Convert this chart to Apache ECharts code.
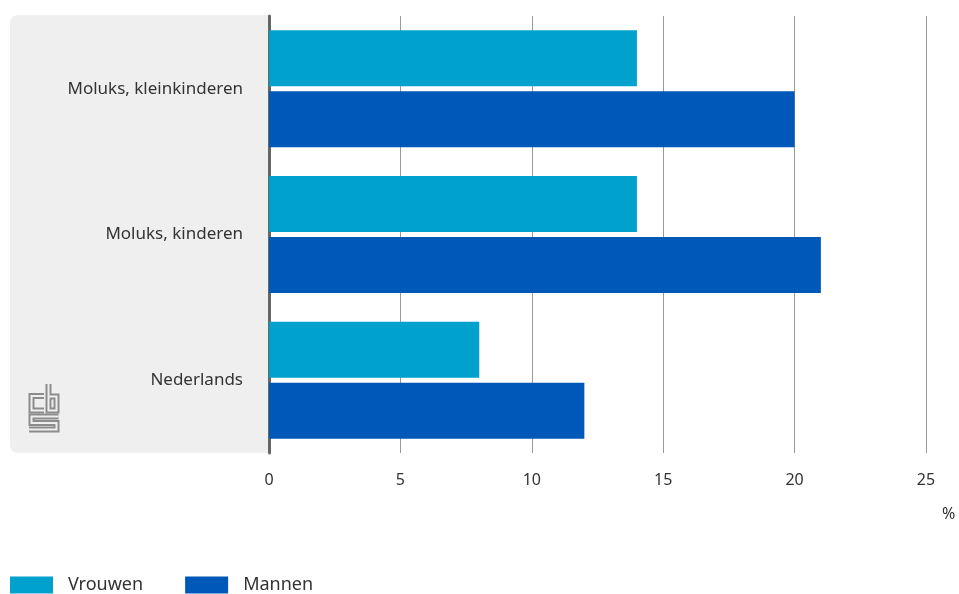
<!DOCTYPE html>
<html><head><meta charset="utf-8">
<script src="https://cdn.jsdelivr.net/npm/echarts@6/dist/echarts.min.js"></script>
<style>html,body{margin:0;padding:0;background:#fff}#c{width:959px;height:594px}</style>
</head><body><div id="c"></div>
<script>
const categories = ["Moluks, kleinkinderen", "Moluks, kinderen", "Nederlands"];
const vrouwen = [14, 14, 8];
const mannen = [20, 21, 12];
const seriesNames = ["Vrouwen", "Mannen"];
const xTicks = [0, 5, 10, 15, 20, 25];

const FONT = "Noto Sans";
const chart = echarts.init(document.getElementById('c'), null, {renderer: 'canvas'});

function logoLine(points, w, color) {
  return {type: 'polyline', shape: {points: points}, style: {stroke: color, lineWidth: w, fill: null, lineJoin: 'miter', lineCap: 'butt'}, z: 5};
}
const cPts = [[44,396],[31.5,396],[31.5,410.5],[44,410.5]];
const bPts = [[48.5,384],[48.5,410.5],[56.5,410.5],[56.5,396.5],[48.5,396.5]];
const sPts = [[58.5,416.5],[31.5,416.5],[31.5,423],[56.5,423],[56.5,429.5],[29,429.5]];
const logo = [];
[cPts,bPts,sPts].forEach(p => { logo.push(logoLine(p, 6, '#8c8c8c')); });
[cPts,bPts,sPts].forEach(p => { logo.push(logoLine(p, 2, '#efefef')); });

chart.setOption({
  animation: false,
  textStyle: {fontFamily: FONT},
  grid: {left: 269, right: 33, top: 16, bottom: 141, containLabel: false},
  graphic: [
    {type: 'rect', shape: {x: 10, y: 15, width: 270, height: 438, r: 8}, style: {fill: '#efefef'}, z: -10},
    {type: 'rect', shape: {x: 269, y: 15, width: 20, height: 438}, style: {fill: '#ffffff'}, z: -9},
    {type: 'text', left: 942, top: 506, style: {text: '%', fontSize: 16, fill: '#333', fontFamily: FONT}}
  ].concat(logo),
  legend: {
    left: 10, bottom: 0, padding: 0, itemWidth: 43, itemHeight: 17, itemGap: 42,
    icon: 'rect',
    textStyle: {fontSize: 18, color: '#333', fontFamily: FONT, padding: [0,0,0,10]},
    data: seriesNames
  },
  xAxis: {
    type: 'value', min: 0, max: 25, interval: 5,
    axisLine: {show: false}, axisTick: {show: false},
    splitLine: {show: true, lineStyle: {color: '#999', width: 1}},
    axisLabel: {color: '#333', fontSize: 16, margin: 19, fontFamily: FONT,
      formatter: v => xTicks.includes(v) ? String(v) : ''}
  },
  yAxis: {
    type: 'category', inverse: true, data: categories,
    axisLine: {show: true, lineStyle: {color: '#666', width: 3}},
    axisTick: {show: false},
    axisLabel: {color: '#333', fontSize: 17, margin: 26, fontFamily: FONT, padding: [7,0,0,0]}
  },
  series: [
    {name: seriesNames[0], type: 'bar', data: vrouwen, itemStyle: {color: '#00a1cd'}, barWidth: 56, barGap: '9%', barCategoryGap: '20%'},
    {name: seriesNames[1], type: 'bar', data: mannen, itemStyle: {color: '#0058b8'}, barWidth: 56, barGap: '9%'}
  ]
});
</script></body></html>
